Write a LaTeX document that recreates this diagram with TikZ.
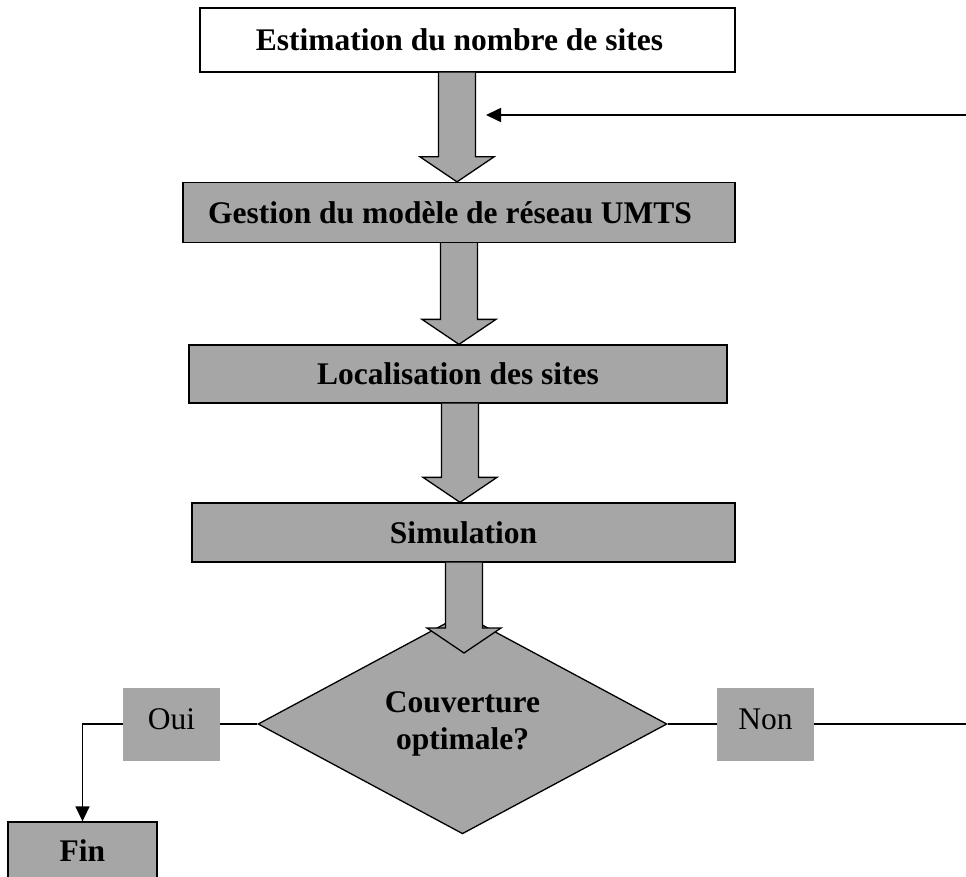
\documentclass[tikz,border=0pt]{standalone}
\usepackage{fontspec}
\setmainfont{Liberation Serif}
\usetikzlibrary{shapes.geometric,arrows.meta,calc}
\definecolor{boxgray}{RGB}{166,166,166}
\newcommand{\bigarrow}[2]{%
  \draw[barrow] ($(#1)+(-18.5,0)$) -- ($(#2)+(-18.5,-25)$) -- ($(#2)+(-37,-25)$) -- (#2)
    -- ($(#2)+(37,-25)$) -- ($(#2)+(18.5,-25)$) -- ($(#1)+(18.5,0)$);
}
\begin{document}
\begin{tikzpicture}[x=1pt,y=-1pt,
  stepbox/.style={draw=black,line width=1.3pt,inner sep=0pt,fill=boxgray,
    font=\fontsize{31.5}{37}\selectfont\bfseries},
  decision/.style={diamond,draw=black,line width=1.3pt,inner sep=0pt,fill=boxgray,
    align=center,font=\fontsize{31.5}{37}\selectfont\bfseries},
  tagbox/.style={fill=boxgray,inner sep=0pt,minimum width=97pt,minimum height=73pt,
    text height=21.5pt,text depth=11.5pt,font=\fontsize{31.5}{37}\selectfont},
  barrow/.style={draw=black,fill=boxgray,line width=1.3pt,line join=miter},
  conn/.style={draw=black,line width=1.6pt},
  tip/.style={-{Triangle[length=15pt,width=14pt]}}]
\useasboundingbox (0,0) rectangle (966,877);
\clip (0,0) rectangle (966,877);
\fill[white] (0,0) rectangle (966,877);

\node[stepbox,fill=white,minimum width=535pt,minimum height=64pt] (est) at (467.5,40) {\hspace*{-16pt}Estimation du nombre de sites};
\node[stepbox,minimum width=552pt,minimum height=60pt] (gest) at (459,212.5) {\hspace*{-18pt}Gestion du mod\`ele de r\'eseau UMTS};
\node[stepbox,minimum width=538pt,minimum height=58pt] (loc) at (458,374) {Localisation des sites};
\node[stepbox,minimum width=543pt,minimum height=59pt] (sim) at (463.5,532.5) {Simulation};
\node[decision,minimum width=409pt,minimum height=183pt] (dec) at (462.5,724) {Couverture\\optimale?};
\node[tagbox] (oui) at (171.5,724) {Oui};
\node[tagbox] (non) at (765.5,724) {Non};
\node[stepbox,minimum width=149pt,minimum height=58pt] (fin) at (82.5,851) {Fin};

\coordinate (a1s) at (457,0 |- est.south);
\coordinate (a1t) at (457,0 |- gest.north);
\coordinate (a2s) at (459,0 |- gest.south);
\coordinate (a2t) at (459,0 |- loc.north);
\coordinate (a3s) at (460,0 |- loc.south);
\coordinate (a3t) at (460,0 |- sim.north);
\coordinate (a4s) at (464,0 |- sim.south);
\coordinate (a4t) at (464,653);
\bigarrow{a1s}{a1t}
\bigarrow{a2s}{a2t}
\bigarrow{a3s}{a3t}
\bigarrow{a4s}{a4t}

\coordinate (fbs) at (968,115);
\coordinate (fbt) at (486,115);
\coordinate (rend) at (968,724);
\draw[conn,tip] (fbs) -- (fbt);
\draw[conn] (dec.west) -- (oui.east);
\draw[conn] (dec.east) -- (non.west);
\draw[conn] (non.east) -- (rend);
\draw[conn,tip] (oui.west) -| (fin.north);
\end{tikzpicture}
\end{document}
